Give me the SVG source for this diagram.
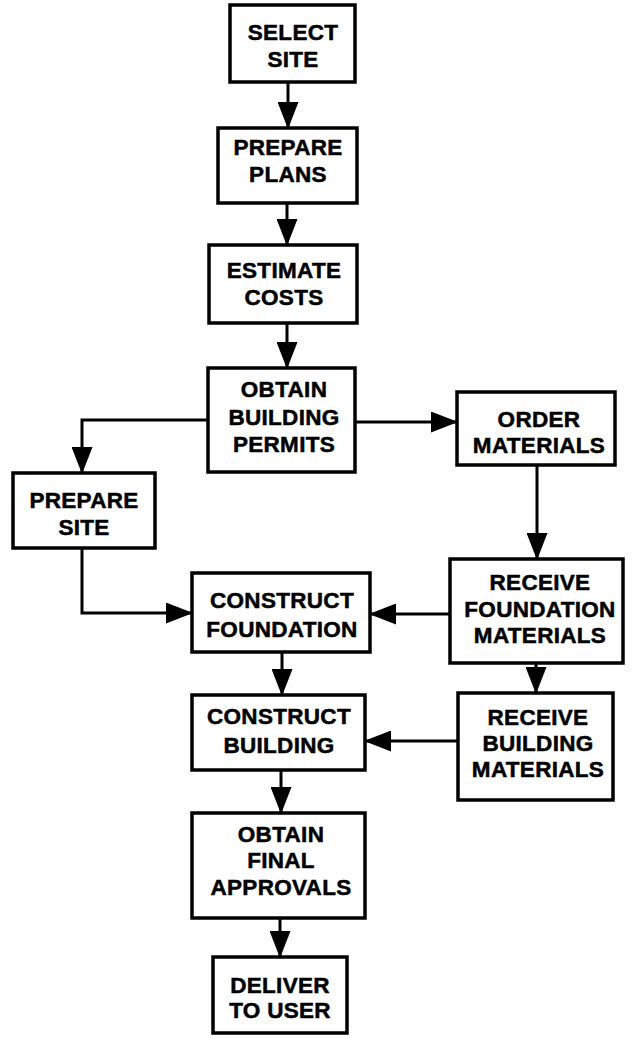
<svg xmlns="http://www.w3.org/2000/svg" width="632" height="1038" viewBox="0 0 632 1038">
<style>
.box{fill:#fff;stroke:#000;stroke-width:3.5}
.lbl{font-family:"Liberation Sans",Arial,sans-serif;font-weight:bold;font-size:22.5px;text-anchor:middle;fill:#000;stroke:#000;stroke-width:0.5;letter-spacing:0.3px}
.con{fill:none;stroke:#000;stroke-width:3}
</style>
<defs>
<marker id="ah" markerUnits="userSpaceOnUse" markerWidth="27" markerHeight="21" refX="26" refY="10.5" orient="auto">
<path d="M0,0 L27,10.5 L0,21 Z" fill="#000"/>
</marker>
</defs>
<rect width="632" height="1038" fill="#fff"/>
<g id="connectors">
<line class="con" x1="288" y1="82" x2="288" y2="128" marker-end="url(#ah)"/>
<line class="con" x1="287" y1="203" x2="287" y2="245" marker-end="url(#ah)"/>
<line class="con" x1="287" y1="323" x2="287" y2="368" marker-end="url(#ah)"/>
<line class="con" x1="355" y1="422" x2="457" y2="422" marker-end="url(#ah)"/>
<path class="con" d="M208,420 H82 V473" marker-end="url(#ah)"/>
<path class="con" d="M82,548 V613 H192" marker-end="url(#ah)"/>
<line class="con" x1="537" y1="465" x2="537" y2="559" marker-end="url(#ah)"/>
<line class="con" x1="450" y1="614" x2="370" y2="614" marker-end="url(#ah)"/>
<line class="con" x1="282" y1="652" x2="282" y2="695" marker-end="url(#ah)"/>
<line class="con" x1="536" y1="663" x2="536" y2="693" marker-end="url(#ah)"/>
<line class="con" x1="458" y1="741" x2="365" y2="741" marker-end="url(#ah)"/>
<line class="con" x1="281" y1="770" x2="281" y2="813" marker-end="url(#ah)"/>
<line class="con" x1="280" y1="918" x2="280" y2="957" marker-end="url(#ah)"/>
</g>
<g id="select-site">
<rect class="box" x="230" y="5" width="125" height="77"/>
<text class="lbl" x="293" y="40">SELECT</text>
<text class="lbl" x="293" y="67">SITE</text>
</g>
<g id="prepare-plans">
<rect class="box" x="218" y="128" width="139" height="75"/>
<text class="lbl" x="288" y="155">PREPARE</text>
<text class="lbl" x="288" y="182">PLANS</text>
</g>
<g id="estimate-costs">
<rect class="box" x="209" y="245" width="148" height="78"/>
<text class="lbl" x="284" y="278">ESTIMATE</text>
<text class="lbl" x="284" y="305">COSTS</text>
</g>
<g id="obtain-permits">
<rect class="box" x="208" y="368" width="147" height="104"/>
<text class="lbl" x="284" y="397">OBTAIN</text>
<text class="lbl" x="284" y="425">BUILDING</text>
<text class="lbl" x="284" y="452">PERMITS</text>
</g>
<g id="order-materials">
<rect class="box" x="457" y="392" width="158" height="73"/>
<text class="lbl" x="539" y="427">ORDER</text>
<text class="lbl" x="539" y="453">MATERIALS</text>
</g>
<g id="prepare-site">
<rect class="box" x="13" y="473" width="142" height="75"/>
<text class="lbl" x="84" y="508">PREPARE</text>
<text class="lbl" x="84" y="535">SITE</text>
</g>
<g id="construct-foundation">
<rect class="box" x="192" y="573" width="178" height="79"/>
<text class="lbl" x="282" y="608">CONSTRUCT</text>
<text class="lbl" x="282" y="637">FOUNDATION</text>
</g>
<g id="receive-foundation">
<rect class="box" x="450" y="559" width="173" height="104"/>
<text class="lbl" x="540" y="590">RECEIVE</text>
<text class="lbl" x="540" y="617">FOUNDATION</text>
<text class="lbl" x="540" y="643">MATERIALS</text>
</g>
<g id="construct-building">
<rect class="box" x="192" y="695" width="173" height="75"/>
<text class="lbl" x="279" y="724">CONSTRUCT</text>
<text class="lbl" x="279" y="753">BUILDING</text>
</g>
<g id="receive-building">
<rect class="box" x="458" y="693" width="155" height="107"/>
<text class="lbl" x="538" y="725">RECEIVE</text>
<text class="lbl" x="538" y="751">BUILDING</text>
<text class="lbl" x="538" y="777">MATERIALS</text>
</g>
<g id="obtain-final">
<rect class="box" x="192" y="813" width="173" height="105"/>
<text class="lbl" x="281" y="842">OBTAIN</text>
<text class="lbl" x="281" y="868">FINAL</text>
<text class="lbl" x="281" y="895">APPROVALS</text>
</g>
<g id="deliver">
<rect class="box" x="213" y="957" width="134" height="76"/>
<text class="lbl" x="280" y="993">DELIVER</text>
<text class="lbl" x="280" y="1018">TO USER</text>
</g>
</svg>
